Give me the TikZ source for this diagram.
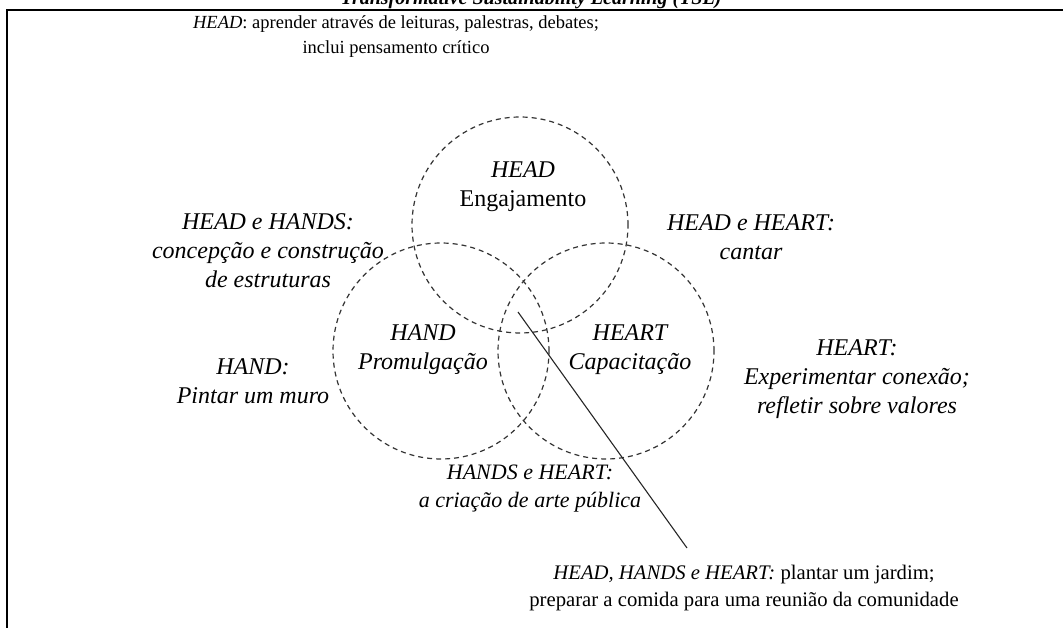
\documentclass[tikz,border=0pt]{standalone}
\usepackage{fontspec}
\setmainfont{Liberation Serif}
\begin{document}
\begin{tikzpicture}[x=1pt,y=-1pt,
  up/.style={align=center, inner sep=0pt, font=\fontsize{18.5}{25}\selectfont},
  upb/.style={align=center, inner sep=0pt, font=\fontsize{20.7}{27}\selectfont},
  it/.style={align=center, inner sep=0pt, font=\itshape\fontsize{24}{29}\selectfont},
  its/.style={align=center, inner sep=0pt, font=\itshape\fontsize{22}{28}\selectfont},
  circ/.style={circle, draw=black!80, line width=1.2pt, dash pattern=on 5pt off 4pt, minimum size=216pt, inner sep=0pt},
  frame/.style={draw=black, line width=2pt},
  lead/.style={draw=black!85, line width=1.1pt},
]
\useasboundingbox (0,0) rectangle (1063,628);
\clip (0,0) rectangle (1063,628);
\node[anchor=base, inner sep=0pt, font=\bfseries\itshape\fontsize{20}{24}\selectfont] (title) at (531,5) {Transformative Sustainability Learning (TSL)};
\draw[frame] (7,628) -- (7,10) -- (1063,10);
\node[circ] (chead) at (520,225) {};
\node[circ] (chand) at (441,351) {};
\node[circ] (cheart) at (606,351) {};
\node[up] (top) at (396,36.5) {\textit{HEAD}: aprender através de leituras, palestras, debates;\\ inclui pensamento crítico};
\node[it] (headin) at (523,187) {HEAD\\ \upshape Engajamento};
\node[it] (headhands) at (268,251) {HEAD e HANDS:\\ concepção e construção\\ de estruturas};
\node[it] (headheart) at (751,237) {HEAD e HEART:\\ cantar};
\node[it] (handin) at (423,350) {HAND\\ Promulgação};
\node[it] (heartin) at (630,350) {HEART\\ Capacitação};
\node[it] (handout) at (253,381) {HAND:\\ Pintar um muro};
\node[it] (heartout) at (857,379) {HEART:\\ Experimentar conexão;\\ refletir sobre valores};
\node[its] (handsheart) at (530,489) {HANDS e HEART:\\ a criação de arte pública};
\node[upb] (all) at (744,588) {\textit{HEAD, HANDS e HEART:} plantar um jardim;\\ preparar a comida para uma reunião da comunidade};
\coordinate (c1) at (518,312);
\coordinate (c2) at (687,548);
\draw[lead] (c1) -- (c2);
\end{tikzpicture}
\end{document}
